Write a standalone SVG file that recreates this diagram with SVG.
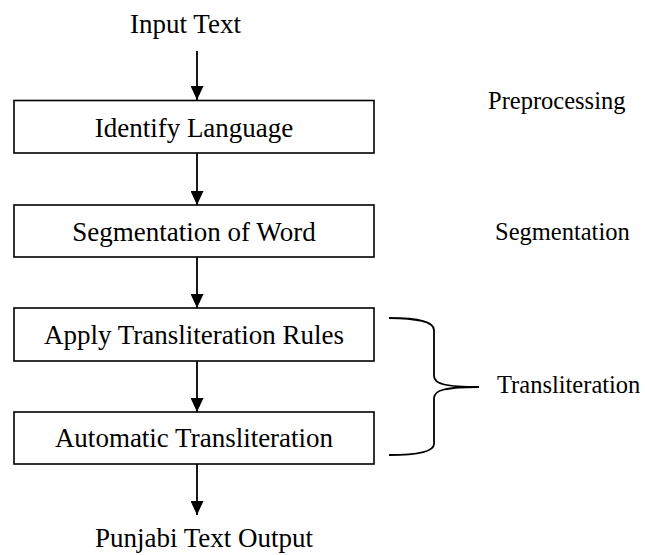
<svg xmlns="http://www.w3.org/2000/svg" width="645" height="555" viewBox="0 0 645 555">
<style>
.box{fill:#fff;stroke:#000;stroke-width:1.6}
.t{font-family:"Liberation Serif","Times New Roman",serif;font-size:27px;fill:#000;text-anchor:middle}
.s{font-family:"Liberation Serif","Times New Roman",serif;font-size:24.5px;fill:#000}
.c{stroke:#000;stroke-width:1.8;fill:none}
</style>
<defs>
<marker id="ah" markerUnits="userSpaceOnUse" markerWidth="14" markerHeight="13" refX="14" refY="6.5" orient="auto">
<path d="M0,0 L14,6.5 L0,13 Z" fill="#000"/>
</marker>
</defs>
<rect width="645" height="555" fill="#fff"/>
<g id="connectors">
<line class="c" x1="197" y1="51" x2="197" y2="100" marker-end="url(#ah)"/>
<line class="c" x1="197" y1="153" x2="197" y2="205" marker-end="url(#ah)"/>
<line class="c" x1="197" y1="257" x2="197" y2="308" marker-end="url(#ah)"/>
<line class="c" x1="197" y1="361" x2="197" y2="412" marker-end="url(#ah)"/>
<line class="c" x1="197" y1="464" x2="197" y2="515" marker-end="url(#ah)"/>
<path class="c" d="M389,318 C416,318 434,322 434,330 L434,376 C434,384 446,387 479,387 C446,387 434,390 434,398 L434,444 C434,452 416,455 389,455"/>
</g>
<g id="input"><text class="t" x="185.5" y="33">Input Text</text></g>
<g id="identify"><rect class="box" x="14" y="100.5" width="360" height="52.5"/><text class="t" x="194" y="137">Identify Language</text></g>
<g id="segment"><rect class="box" x="14" y="205" width="360" height="52"/><text class="t" x="194" y="241">Segmentation of Word</text></g>
<g id="apply"><rect class="box" x="14" y="308" width="360" height="53"/><text class="t" x="194" y="344">Apply Transliteration Rules</text></g>
<g id="auto"><rect class="box" x="14" y="412" width="360" height="52"/><text class="t" x="194" y="447">Automatic Transliteration</text></g>
<g id="output"><text class="t" x="204" y="547">Punjabi Text Output</text></g>
<g id="preprocessing"><text class="s" x="488" y="109">Preprocessing</text></g>
<g id="segmentation"><text class="s" x="495" y="240">Segmentation</text></g>
<g id="transliteration"><text class="s" x="497" y="393">Transliteration</text></g>
</svg>
